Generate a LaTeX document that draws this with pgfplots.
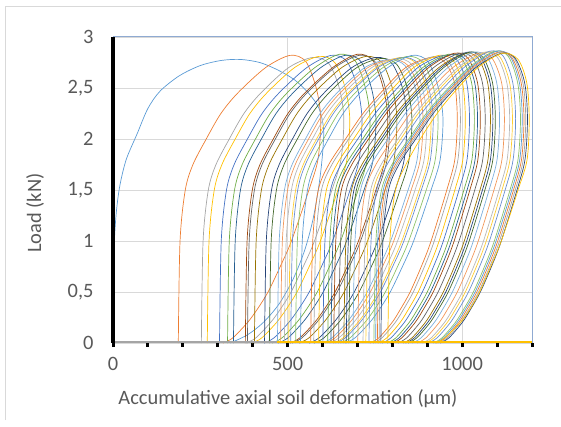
\documentclass[border=0pt]{standalone}
\usepackage{fontspec}
\setmainfont{Carlito}
\usepackage{pgfplots}
\pgfplotsset{compat=1.18}
\definecolor{c1}{HTML}{5B9BD5}
\definecolor{c2}{HTML}{ED7D31}
\definecolor{c3}{HTML}{A5A5A5}
\definecolor{c4}{HTML}{FFC000}
\definecolor{c5}{HTML}{4472C4}
\definecolor{c6}{HTML}{70AD47}
\definecolor{c7}{HTML}{255E91}
\definecolor{c8}{HTML}{9E480E}
\definecolor{c9}{HTML}{636363}
\definecolor{c10}{HTML}{997300}
\definecolor{c11}{HTML}{264478}
\definecolor{c12}{HTML}{43682B}
\definecolor{c13}{HTML}{7CAFDD}
\definecolor{c14}{HTML}{F1975A}
\definecolor{c15}{HTML}{B7B7B7}
\definecolor{c16}{HTML}{FFCD33}
\definecolor{c17}{HTML}{698ED0}
\definecolor{c18}{HTML}{8CC168}
\definecolor{txt}{HTML}{595959}
\definecolor{gridc}{HTML}{D9D9D9}
\definecolor{frame}{HTML}{8FAAD2}
\begin{document}
\begin{tikzpicture}[font=\fontsize{20.5}{24}\selectfont, x=1bp, y=1bp]
\useasboundingbox (0,0) rectangle (561,426);
\draw[gridc, line width=1bp] (5.5,6) -- (5.5,419) -- (565,419);
\begin{axis}[
  at={(113bp,83bp)}, anchor=south west,
  width=419bp, height=306bp, scale only axis,
  xmin=0, xmax=1200, ymin=0, ymax=3,
  clip=false,
  axis line style={draw=none},
  tick pos=left,
  xtick={0,500,1000}, xticklabels={0,500,1000},
  minor xtick={100,200,300,400,600,700,800,900,1100,1200},
  ytick={0,0.5,1,1.5,2,2.5,3}, yticklabels={0,{0,5},1,{1,5},2,{2,5},3},
  tick align=outside,
  major tick length=4bp, minor tick length=3.5bp,
  xtick style={draw=black, line width=3bp},
  minor tick style={draw=black, line width=3bp},
  ytick style={draw=none},
  xmajorgrids, ymajorgrids,
  grid style={gridc, line width=0.8bp},
  xticklabel style={text=txt, yshift=-7bp},
  yticklabel style={text=txt, xshift=-12bp},
  every axis plot/.append style={line width=0.7pt, smooth, no markers},
]
% first cycle
\addplot[c1] coordinates {(0,0)(1,0.5)(4,1.0)(10,1.3)(20,1.55)(38,1.8)(69,2.05)(100,2.3)(135,2.47)(190,2.62)(250,2.72)(310,2.77)(365,2.78)(420,2.75)(470,2.68)(520,2.58)(560,2.45)(590,2.3)(603,2.1)(600,1.85)(590,1.55)(572,1.2)(548,0.9)(515,0.62)(475,0.38)(430,0.2)(385,0.08)(336,0)};
% group A
\addplot[c2] coordinates {(187,0)(192,1.0)(207,1.5)(229,1.75)(267,2.0)(309,2.25)(357,2.45)(437,2.7)(507,2.82)(552,2.76)(582,2.5)(595,2.2)(587,1.8)(561,1.5)(511,1.0)(479,0.75)(444,0.5)(413,0.33)(385,0.2)(343,0.05)(315,0)};
\addplot[c3] coordinates {(253,0)(258,1.0)(273,1.5)(295,1.75)(333,2.0)(375,2.25)(423,2.45)(503,2.7)(573,2.8)(618,2.74)(648,2.5)(661,2.2)(653,1.8)(627,1.5)(577,1.0)(545,0.75)(510,0.5)(479,0.33)(451,0.2)(409,0.05)(381,0)};
\addplot[c4] coordinates {(270,0)(275,1.0)(290,1.5)(312,1.75)(350,2.0)(392,2.25)(440,2.45)(520,2.7)(590,2.81)(635,2.75)(665,2.5)(678,2.2)(670,1.8)(644,1.5)(594,1.0)(562,0.75)(527,0.5)(496,0.33)(468,0.2)(426,0.05)(398,0)};
\addplot[c5] coordinates {(305,0)(310,1.0)(325,1.5)(347,1.75)(385,2.0)(427,2.25)(475,2.45)(555,2.7)(625,2.82)(670,2.76)(700,2.5)(713,2.2)(705,1.8)(679,1.5)(629,1.0)(597,0.75)(562,0.5)(531,0.33)(503,0.2)(461,0.05)(433,0)};
\addplot[c6] coordinates {(328,0)(333,1.0)(348,1.5)(370,1.75)(408,2.0)(450,2.25)(498,2.45)(578,2.7)(648,2.83)(693,2.77)(723,2.5)(736,2.2)(728,1.8)(702,1.5)(652,1.0)(620,0.75)(585,0.5)(554,0.33)(526,0.2)(484,0.05)(456,0)};
\addplot[c7] coordinates {(345,0)(350,1.0)(365,1.5)(387,1.75)(425,2.0)(467,2.25)(515,2.45)(595,2.7)(665,2.82)(710,2.76)(740,2.5)(753,2.2)(745,1.8)(719,1.5)(669,1.0)(637,0.75)(602,0.5)(571,0.33)(543,0.2)(501,0.05)(473,0)};
\addplot[c8] coordinates {(379,0)(384,1.0)(399,1.5)(421,1.75)(459,2.0)(501,2.25)(549,2.45)(629,2.7)(699,2.83)(744,2.77)(774,2.5)(787,2.2)(779,1.8)(753,1.5)(703,1.0)(671,0.75)(636,0.5)(605,0.33)(577,0.2)(535,0.05)(507,0)};
\addplot[c9] coordinates {(385,0)(390,1.0)(405,1.5)(427,1.75)(465,2.0)(507,2.25)(555,2.45)(635,2.7)(705,2.82)(750,2.76)(780,2.5)(793,2.2)(785,1.8)(759,1.5)(709,1.0)(677,0.75)(642,0.5)(611,0.33)(583,0.2)(541,0.05)(513,0)};
\addplot[c10] coordinates {(405,0)(410,1.0)(425,1.5)(447,1.75)(485,2.0)(527,2.25)(575,2.45)(655,2.7)(725,2.81)(770,2.75)(800,2.5)(813,2.2)(805,1.8)(779,1.5)(729,1.0)(697,0.75)(662,0.5)(631,0.33)(603,0.2)(561,0.05)(533,0)};
\addplot[c11] coordinates {(434,0)(439,1.0)(454,1.5)(476,1.75)(514,2.0)(556,2.25)(604,2.45)(684,2.7)(754,2.8)(799,2.74)(829,2.5)(842,2.2)(834,1.8)(808,1.5)(758,1.0)(726,0.75)(691,0.5)(660,0.33)(632,0.2)(590,0.05)(562,0)};
\addplot[c12] coordinates {(448,0)(453,1.0)(468,1.5)(490,1.75)(528,2.0)(570,2.25)(618,2.45)(698,2.7)(768,2.79)(813,2.73)(843,2.5)(856,2.2)(848,1.8)(822,1.5)(772,1.0)(740,0.75)(705,0.5)(674,0.33)(646,0.2)(604,0.05)(576,0)};
\addplot[c13] coordinates {(471,0)(476,1.0)(491,1.5)(513,1.75)(551,2.0)(593,2.25)(641,2.45)(721,2.7)(791,2.78)(836,2.72)(866,2.5)(879,2.2)(871,1.8)(845,1.5)(795,1.0)(763,0.75)(728,0.5)(697,0.33)(669,0.2)(627,0.05)(599,0)};
\addplot[c14] coordinates {(480,0)(485,1.0)(500,1.5)(522,1.75)(560,2.0)(602,2.25)(650,2.45)(730,2.7)(800,2.78)(845,2.72)(875,2.5)(888,2.2)(880,1.8)(854,1.5)(804,1.0)(772,0.75)(737,0.5)(706,0.33)(678,0.2)(636,0.05)(608,0)};
\addplot[c15] coordinates {(491,0)(496,1.0)(511,1.5)(533,1.75)(571,2.0)(613,2.25)(661,2.45)(741,2.7)(811,2.79)(856,2.73)(886,2.5)(899,2.2)(891,1.8)(865,1.5)(815,1.0)(783,0.75)(748,0.5)(717,0.33)(689,0.2)(647,0.05)(619,0)};
\addplot[c16] coordinates {(503,0)(508,1.0)(523,1.5)(545,1.75)(583,2.0)(625,2.25)(673,2.45)(753,2.7)(823,2.8)(868,2.74)(898,2.5)(911,2.2)(903,1.8)(877,1.5)(827,1.0)(795,0.75)(760,0.5)(729,0.33)(701,0.2)(659,0.05)(631,0)};
\addplot[c17] coordinates {(509,0)(514,1.0)(529,1.5)(551,1.75)(589,2.0)(631,2.25)(679,2.45)(759,2.7)(829,2.8)(874,2.74)(904,2.5)(917,2.2)(909,1.8)(883,1.5)(833,1.0)(801,0.75)(766,0.5)(735,0.33)(707,0.2)(665,0.05)(637,0)};
\addplot[c18] coordinates {(523,0)(528,1.0)(543,1.5)(565,1.75)(603,2.0)(645,2.25)(693,2.45)(773,2.7)(843,2.81)(888,2.75)(918,2.5)(931,2.2)(923,1.8)(897,1.5)(847,1.0)(815,0.75)(780,0.5)(749,0.33)(721,0.2)(679,0.05)(651,0)};
\addplot[c1] coordinates {(537,0)(542,1.0)(557,1.5)(579,1.75)(617,2.0)(659,2.25)(707,2.45)(787,2.7)(857,2.82)(902,2.76)(932,2.5)(945,2.2)(937,1.8)(911,1.5)(861,1.0)(829,0.75)(794,0.5)(763,0.33)(735,0.2)(693,0.05)(665,0)};
% group B
\addplot[c2] coordinates {(566,0)(572,1.0)(588,1.5)(618,1.75)(666,2.0)(716,2.25)(766,2.45)(838,2.7)(911,2.8)(951,2.75)(978,2.55)(986,2.2)(979,1.8)(956,1.5)(911,1.0)(883,0.75)(851,0.5)(823,0.33)(799,0.2)(761,0.05)(736,0)};
\addplot[c3] coordinates {(575,0)(581,1.0)(597,1.5)(627,1.75)(675,2.0)(725,2.25)(775,2.45)(847,2.7)(920,2.81)(960,2.76)(987,2.55)(995,2.2)(988,1.8)(965,1.5)(920,1.0)(892,0.75)(860,0.5)(832,0.33)(808,0.2)(770,0.05)(745,0)};
\addplot[c4] coordinates {(589,0)(595,1.0)(611,1.5)(641,1.75)(689,2.0)(739,2.25)(789,2.45)(861,2.7)(934,2.82)(974,2.77)(1001,2.55)(1009,2.2)(1002,1.8)(979,1.5)(934,1.0)(906,0.75)(874,0.5)(846,0.33)(822,0.2)(784,0.05)(759,0)};
\addplot[c5] coordinates {(601,0)(607,1.0)(623,1.5)(653,1.75)(701,2.0)(751,2.25)(801,2.45)(873,2.7)(946,2.82)(986,2.77)(1013,2.55)(1021,2.2)(1014,1.8)(991,1.5)(946,1.0)(918,0.75)(886,0.5)(858,0.33)(834,0.2)(796,0.05)(771,0)};
\addplot[c6] coordinates {(615,0)(621,1.0)(637,1.5)(667,1.75)(715,2.0)(765,2.25)(815,2.45)(887,2.7)(960,2.83)(1000,2.78)(1027,2.55)(1035,2.2)(1028,1.8)(1005,1.5)(960,1.0)(932,0.75)(900,0.5)(872,0.33)(848,0.2)(810,0.05)(785,0)};
\addplot[c7] coordinates {(624,0)(630,1.0)(646,1.5)(676,1.75)(724,2.0)(774,2.25)(824,2.45)(896,2.7)(969,2.83)(1009,2.78)(1036,2.55)(1044,2.2)(1037,1.8)(1014,1.5)(969,1.0)(941,0.75)(909,0.5)(881,0.33)(857,0.2)(819,0.05)(794,0)};
\addplot[c8] coordinates {(632,0)(638,1.0)(654,1.5)(684,1.75)(732,2.0)(782,2.25)(832,2.45)(904,2.7)(977,2.84)(1017,2.79)(1044,2.55)(1052,2.2)(1045,1.8)(1022,1.5)(977,1.0)(949,0.75)(917,0.5)(889,0.33)(865,0.2)(827,0.05)(802,0)};
\addplot[c9] coordinates {(646,0)(652,1.0)(668,1.5)(698,1.75)(746,2.0)(796,2.25)(846,2.45)(918,2.7)(991,2.84)(1031,2.79)(1058,2.55)(1066,2.2)(1059,1.8)(1036,1.5)(991,1.0)(963,0.75)(931,0.5)(903,0.33)(879,0.2)(841,0.05)(816,0)};
\addplot[c10] coordinates {(661,0)(667,1.0)(683,1.5)(713,1.75)(761,2.0)(811,2.25)(861,2.45)(933,2.7)(1006,2.84)(1046,2.79)(1073,2.55)(1081,2.2)(1074,1.8)(1051,1.5)(1006,1.0)(978,0.75)(946,0.5)(918,0.33)(894,0.2)(856,0.05)(831,0)};
\addplot[c11] coordinates {(668,0)(674,1.0)(690,1.5)(720,1.75)(768,2.0)(818,2.25)(868,2.45)(940,2.7)(1013,2.85)(1053,2.8)(1080,2.55)(1088,2.2)(1081,1.8)(1058,1.5)(1013,1.0)(985,0.75)(953,0.5)(925,0.33)(901,0.2)(863,0.05)(838,0)};
\addplot[c12] coordinates {(675,0)(681,1.0)(697,1.5)(727,1.75)(775,2.0)(825,2.25)(875,2.45)(947,2.7)(1020,2.85)(1060,2.8)(1087,2.55)(1095,2.2)(1088,1.8)(1065,1.5)(1020,1.0)(992,0.75)(960,0.5)(932,0.33)(908,0.2)(870,0.05)(845,0)};
\addplot[c13] coordinates {(687,0)(693,1.0)(709,1.5)(739,1.75)(787,2.0)(837,2.25)(887,2.45)(959,2.7)(1032,2.85)(1072,2.8)(1099,2.55)(1107,2.2)(1100,1.8)(1077,1.5)(1032,1.0)(1004,0.75)(972,0.5)(944,0.33)(920,0.2)(882,0.05)(857,0)};
\addplot[c14] coordinates {(701,0)(707,1.0)(723,1.5)(753,1.75)(801,2.0)(851,2.25)(901,2.45)(973,2.7)(1046,2.84)(1086,2.79)(1113,2.55)(1121,2.2)(1114,1.8)(1091,1.5)(1046,1.0)(1018,0.75)(986,0.5)(958,0.33)(934,0.2)(896,0.05)(871,0)};
\addplot[c15] coordinates {(716,0)(722,1.0)(738,1.5)(768,1.75)(816,2.0)(866,2.25)(916,2.45)(988,2.7)(1061,2.85)(1101,2.8)(1128,2.55)(1136,2.2)(1129,1.8)(1106,1.5)(1061,1.0)(1033,0.75)(1001,0.5)(973,0.33)(949,0.2)(911,0.05)(886,0)};
\addplot[c16] coordinates {(724,0)(730,1.0)(746,1.5)(776,1.75)(824,2.0)(874,2.25)(924,2.45)(996,2.7)(1069,2.85)(1109,2.8)(1136,2.55)(1144,2.2)(1137,1.8)(1114,1.5)(1069,1.0)(1041,0.75)(1009,0.5)(981,0.33)(957,0.2)(919,0.05)(894,0)};
\addplot[c17] coordinates {(733,0)(739,1.0)(755,1.5)(785,1.75)(833,2.0)(883,2.25)(933,2.45)(1005,2.7)(1078,2.86)(1118,2.81)(1145,2.55)(1153,2.2)(1146,1.8)(1123,1.5)(1078,1.0)(1050,0.75)(1018,0.5)(990,0.33)(966,0.2)(928,0.05)(903,0)};
\addplot[c18] coordinates {(747,0)(753,1.0)(769,1.5)(799,1.75)(847,2.0)(897,2.25)(947,2.45)(1019,2.7)(1092,2.86)(1132,2.81)(1159,2.55)(1167,2.2)(1160,1.8)(1137,1.5)(1092,1.0)(1064,0.75)(1032,0.5)(1004,0.33)(980,0.2)(942,0.05)(917,0)};
\addplot[c1] coordinates {(752,0)(758,1.0)(774,1.5)(804,1.75)(852,2.0)(902,2.25)(952,2.45)(1024,2.7)(1097,2.86)(1137,2.81)(1164,2.55)(1172,2.2)(1165,1.8)(1142,1.5)(1097,1.0)(1069,0.75)(1037,0.5)(1009,0.33)(985,0.2)(947,0.05)(922,0)};
\addplot[c2] coordinates {(757,0)(763,1.0)(779,1.5)(809,1.75)(857,2.0)(907,2.25)(957,2.45)(1029,2.7)(1102,2.85)(1142,2.8)(1169,2.55)(1177,2.2)(1170,1.8)(1147,1.5)(1102,1.0)(1074,0.75)(1042,0.5)(1014,0.33)(990,0.2)(952,0.05)(927,0)};
\addplot[c3] coordinates {(762,0)(768,1.0)(784,1.5)(814,1.75)(862,2.0)(912,2.25)(962,2.45)(1034,2.7)(1107,2.85)(1147,2.8)(1174,2.55)(1182,2.2)(1175,1.8)(1152,1.5)(1107,1.0)(1079,0.75)(1047,0.5)(1019,0.33)(995,0.2)(957,0.05)(932,0)};
\addplot[c11] coordinates {(767,0)(773,1.0)(789,1.5)(819,1.75)(867,2.0)(917,2.25)(967,2.45)(1039,2.7)(1112,2.84)(1152,2.79)(1179,2.55)(1187,2.2)(1180,1.8)(1157,1.5)(1112,1.0)(1084,0.75)(1052,0.5)(1024,0.33)(1000,0.2)(962,0.05)(937,0)};
\addplot[c4] coordinates {(787,0)(793,1.0)(809,1.5)(839,1.75)(880,2.0)(928,2.25)(975,2.45)(1045,2.7)(1115,2.84)(1160,2.78)(1185,2.55)(1192,2.2)(1186,1.8)(1160,1.5)(1112,1.0)(1082,0.75)(1050,0.5)(1022,0.33)(995,0.2)(950,0.05)(925,0)};
% zero-load baseline records
\addplot[c3, line width=2.5bp, sharp plot] coordinates {(0,0.012)(470,0.012)};
\addplot[c4, line width=2.5bp, sharp plot] coordinates {(470,0.012)(1200,0.012)};
% frame
\draw[frame, line width=1bp] (axis cs:0,3) -- (axis cs:1200,3) -- (axis cs:1200,0);
\draw[black, line width=4bp] (axis cs:0,0) -- (axis cs:0,3);
\end{axis}
\node[text=txt] at (288,27) {Accumulative axial soil deformation (µm)};
\node[text=txt, rotate=90] at (35,213) {Load (kN)};
\end{tikzpicture}
\end{document}
